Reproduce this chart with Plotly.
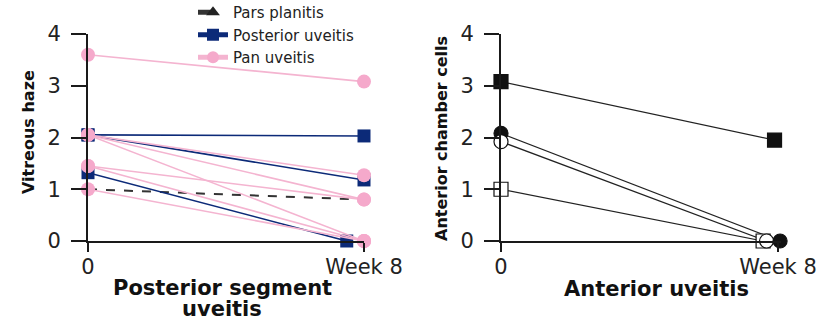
import plotly.graph_objects as go

# ---- data: vitreous haze, posterior segment uveitis (baseline -> week 8) ----
weeks = [0, 8]
tick_text = ["0", "Week 8"]

pars_w0 = [1.0]
pars_w8 = [0.8]

post_w0 = [2.05, 2.05, 1.32]
post_w8 = [2.03, 1.18, 0.0]

pan_w0 = [3.6, 2.05, 2.05, 2.05, 1.45, 1.45, 1.0]
pan_w8 = [3.08, 1.27, 0.8, 0.0, 0.8, 0.0, 0.0]

# ---- data: anterior chamber cells, anterior uveitis (one eye per entry) ----
ac_w0 = [3.08, 1.0, 2.08, 1.92]
ac_w8 = [1.95, 0.0, 0.0, 0.0]
ac_symbol = ["square", "square", "circle", "circle"]
ac_fill = ["#111111", "white", "#111111", "white"]

# small horizontal dodge (weeks) so overlapping week-8 markers stay visible
post_dodge = [0.0, 0.0, -0.5]
ac_dodge = [-0.1, -0.43, 0.06, -0.33]
# stacking order of the markers at each time point (last one on top)
ac_order_w0 = [0, 1, 2, 3]
ac_order_w8 = [0, 1, 3, 2]

NAVY = "#0c2a78"
PINK = "#f5a9cb"
PINK_LINE = "#f4b4d0"
INK = "#1a1a1a"


def segments(w0, w8, dodge=None):
    xs, ys = [], []
    for i, (a, b) in enumerate(zip(w0, w8)):
        d = dodge[i] if dodge else 0.0
        xs += [weeks[0], weeks[1] + d, None]
        ys += [a, b, None]
    return xs, ys


fig = go.Figure()

# Pars planitis (dashed)
x, y = segments(pars_w0, pars_w8)
fig.add_trace(go.Scatter(
    x=x, y=y, mode="lines+markers", name="Pars planitis",
    line=dict(color="#333333", width=2, dash="dash"),
    marker=dict(symbol="triangle-up", size=11, color="#222222"),
    cliponaxis=False, xaxis="x", yaxis="y"))

# Posterior uveitis
x, y = segments(post_w0, post_w8, post_dodge)
fig.add_trace(go.Scatter(
    x=x, y=y, mode="lines+markers", name="Posterior uveitis",
    line=dict(color=NAVY, width=1.6),
    marker=dict(symbol="square", size=13, color=NAVY),
    cliponaxis=False, xaxis="x", yaxis="y"))

# Pan uveitis
x, y = segments(pan_w0, pan_w8)
fig.add_trace(go.Scatter(
    x=x, y=y, mode="lines+markers", name="Pan uveitis",
    line=dict(color=PINK_LINE, width=1.6),
    marker=dict(symbol="circle", size=14, color=PINK),
    cliponaxis=False, xaxis="x", yaxis="y"))

# Anterior uveitis panel: connecting lines first, then markers per time point
x, y = segments(ac_w0, ac_w8, ac_dodge)
fig.add_trace(go.Scatter(
    x=x, y=y, mode="lines", line=dict(color="#222222", width=1.2),
    showlegend=False, cliponaxis=False, xaxis="x2", yaxis="y2"))

for order, vals, t in ((ac_order_w0, ac_w0, 0), (ac_order_w8, ac_w8, 1)):
    fig.add_trace(go.Scatter(
        x=[weeks[t] + (ac_dodge[i] if t else 0.0) for i in order],
        y=[vals[i] for i in order],
        mode="markers",
        marker=dict(symbol=[ac_symbol[i] for i in order],
                    color=[ac_fill[i] for i in order], size=14,
                    line=dict(color="#111111", width=1.2)),
        showlegend=False, cliponaxis=False, xaxis="x2", yaxis="y2"))

W, H = 825, 321
tick_font = dict(family="DejaVu Sans", size=21, color="#222222")

xcommon = dict(tickvals=weeks, ticktext=tick_text,
               ticks="outside", ticklen=9, tickwidth=2, tickcolor=INK,
               showline=True, linecolor=INK, linewidth=2,
               showgrid=False, zeroline=False, tickfont=tick_font,
               ticklabelstandoff=-3, fixedrange=True)
ycommon = dict(range=[0, 4], tickvals=[0, 1, 2, 3, 4],
               ticks="outside", ticklen=15, tickwidth=2, tickcolor=INK,
               showline=True, linecolor=INK, linewidth=2,
               showgrid=False, zeroline=False, tickfont=tick_font,
               ticklabelstandoff=6, fixedrange=True)

ydom = [80 / H, 287 / H]
# right panel range runs a little past week 8 so the dodged marker stays drawn
x2_max = 8.1
x2_px = (778 - 501) / 8

fig.update_layout(
    width=W, height=H,
    margin=dict(l=0, r=0, t=0, b=0, autoexpand=False),
    paper_bgcolor="white", plot_bgcolor="white",
    xaxis=dict(domain=[88 / W, 364 / W], range=[0, 8], anchor="y", **xcommon),
    yaxis=dict(domain=ydom, anchor="x", **ycommon),
    xaxis2=dict(domain=[501 / W, (501 + x2_max * x2_px) / W],
                range=[0, x2_max], anchor="y2", **xcommon),
    yaxis2=dict(domain=ydom, anchor="x2", **ycommon),
    legend=dict(x=193 / W, y=1 + 4 / H, xanchor="left", yanchor="top",
                font=dict(family="DejaVu Sans", size=15, color="#222222"),
                bgcolor="rgba(0,0,0,0)", borderwidth=0,
                itemsizing="constant", tracegroupgap=0),
    showlegend=True,
)

title_font = dict(family="DejaVu Sans", size=21, color="#111111", weight="bold")
vtitle_font = dict(family="DejaVu Sans", size=16, color="#111111", weight="bold")

fig.add_annotation(text="Posterior segment", x=222 / W, y=1 - 288 / H,
                   xref="paper", yref="paper", showarrow=False,
                   font=title_font, xanchor="center", yanchor="middle")
fig.add_annotation(text="uveitis", x=222 / W, y=1 - 309 / H,
                   xref="paper", yref="paper", showarrow=False,
                   font=title_font, xanchor="center", yanchor="middle")
fig.add_annotation(text="Anterior uveitis", x=656 / W, y=1 - 289 / H,
                   xref="paper", yref="paper", showarrow=False,
                   font=title_font, xanchor="center", yanchor="middle")
fig.add_annotation(text="Vitreous haze", x=28 / W, y=1 - 132 / H,
                   xref="paper", yref="paper", showarrow=False,
                   font=vtitle_font, textangle=-90,
                   xanchor="center", yanchor="middle")
fig.add_annotation(text="Anterior chamber cells", x=442 / W, y=1 - 139 / H,
                   xref="paper", yref="paper", showarrow=False,
                   font=vtitle_font, textangle=-90,
                   xanchor="center", yanchor="middle")

fig.write_html("out.html")
